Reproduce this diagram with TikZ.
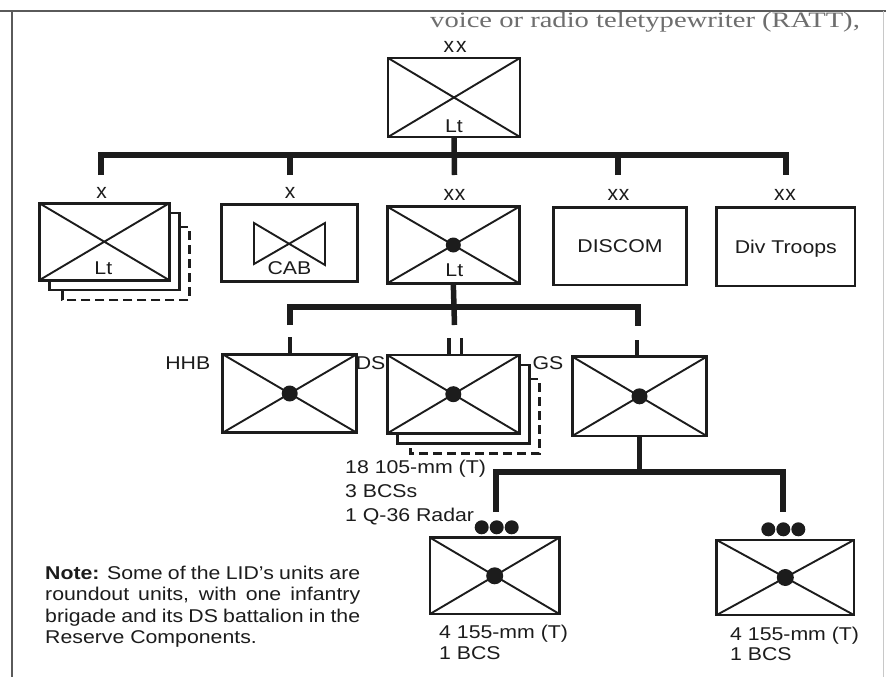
\documentclass[tikz,border=0pt]{standalone}
\usepackage{fontspec}
\setmainfont{Liberation Sans}[FakeStretch=1.15]
\newfontfamily\echelonfont{Liberation Sans}
\newfontfamily\runningserif{Liberation Serif}
\usetikzlibrary{positioning}
\definecolor{inkblack}{HTML}{1C1C1C}
\definecolor{framegray}{HTML}{5A5A5A}
\definecolor{ghostgray}{HTML}{6E6E6E}
\definecolor{edgegray}{HTML}{C8C8C8}
\newcommand\crossmark{%
  \draw[diag] (path picture bounding box.north west) -- (path picture bounding box.south east)
    (path picture bounding box.south west) -- (path picture bounding box.north east);}
\newcommand\unitstack[1]{%
  \draw[layer] ([yshift=-10pt]#1.north east) -- ++(10,0)
    |- ([xshift=10pt,yshift=-10pt]#1.south west) -- ++(0,-10);
  \draw[dashlayer] ([xshift=10pt,yshift=-24pt]#1.north east) -- ++(10,0)
    |- ([xshift=23pt,yshift=-20pt]#1.south west) -- ++(0,-10);}
\tikzset{
  font=\fontsize{18.5}{21.5}\selectfont,
  unit/.style={
    draw=inkblack,
    line width=2.6pt,
    fill=white,
    inner sep=0pt,
    outer sep=0pt,
    minimum width=132pt,
    minimum height=78pt
  },
  xunit/.style={unit, path picture={\crossmark}},
  hqunit/.style={unit, path picture={\crossmark
      \fill[inkblack] (path picture bounding box.center) circle (#1);}},
  hqunit/.default=8pt,
  diag/.style={draw=inkblack, line width=1.9pt},
  layer/.style={draw=inkblack, line width=2.4pt},
  dashlayer/.style={layer, dash pattern=on 9pt off 5pt},
  bus/.style={draw=inkblack, line width=5.5pt},
  stub/.style={draw=inkblack, line width=3.5pt},
  echelon/.style={font=\echelonfont\fontsize{21}{21}\selectfont, inner sep=0pt, anchor=base},
  inlbl/.style={inner sep=0pt, text depth=0pt},
  remark/.style={inner sep=0pt, align=left, anchor=north west}
}
\begin{document}
\begin{tikzpicture}[x=1pt, y=-1pt, text=inkblack]
  \useasboundingbox[fill=white] (0,0) rectangle (886,677);

  % page frame and running text
  \draw[framegray, line width=2pt] (0,11) -- (886,11);
  \draw[framegray, line width=1.6pt] (12,11) -- (12,677);
  \draw[edgegray, line width=1pt] (883,11) -- (883,677);
  \node[anchor=base west, inner sep=0pt, text=ghostgray,
        font=\runningserif\fontsize{22}{22}\selectfont] (runin) at (430,27.5)
    {\scalebox{1.3}[1]{voice or radio teletypewriter (RATT),}};

  % division
  \node[xunit, minimum height=79pt] (div) at (454,97.5) {};
  \node[inlbl, above=4.7pt of div.south] (divlt) {Lt};
  \node[echelon] (divech) at (455,52.7) {x\kern2pt x};

  % first level
  \node[xunit, minimum width=130pt, minimum height=77pt] (bde) at (104.3,241.7) {};
  \node[unit, minimum width=135.6pt, minimum height=77.4pt] (cab) at (289.5,243) {};
  \node[hqunit=7.5pt, minimum height=76.6pt] (arty) at (453.3,245) {};
  \node[unit, minimum width=133.4pt, minimum height=77.7pt] (discom) at (620,246.2) {DISCOM};
  \node[unit, minimum width=138.3pt, minimum height=78.7pt, text depth=0pt] (divtr)
    at (785.8,246.6) {Div Troops};
  \unitstack{bde}
  \draw[diag] ([shift={(-35.5,-20)}]cab.center) -- ([shift={(35.5,22)}]cab.center)
    -- ([shift={(35.5,-20)}]cab.center) -- ([shift={(-35.5,21)}]cab.center) -- cycle;
  \node[inlbl, above=6pt of bde.south, xshift=-1pt] (bdelt) {Lt};
  \node[inlbl, above=7pt of cab.south] (cablt) {CAB};
  \node[inlbl, above=6.3pt of arty.south, xshift=1pt] (artylt) {Lt};

  \node[echelon] (bdeech) at (101.7,198.3) {x};
  \node[echelon] (cabech) at (290,198.3) {x};
  \node[echelon] (artyech) at (454.5,200.7) {x\kern1pt x};
  \node[echelon] (discomech) at (618.5,200.7) {x\kern1pt x};
  \node[echelon] (divtrech) at (785,200.7) {x\kern1pt x};

  \coordinate (busw) at (101,155);
  \coordinate (buse) at (786,155);
  \foreach \name/\x in {bde/101, cab/290, arty/454.5, discom/618, divtr/786}
    \coordinate (tap\name) at (\x,175);
  \draw[bus] (tapbde) -- (busw) -- (buse) -- (tapdivtr);
  \draw[bus] (div.south) -- (taparty);
  \draw[bus] (tapcab) -- (tapcab |- busw);
  \draw[bus] (tapdiscom) -- (tapdiscom |- busw);

  % artillery battalions
  \node[hqunit, minimum width=134pt, minimum height=78.4pt] (hhb) at (289.7,393.5) {};
  \node[hqunit, minimum height=78.3pt] (ds) at (453.3,394.2) {};
  \node[hqunit, minimum width=134.4pt, minimum height=79.3pt] (gs) at (639.5,396.3) {};
  \unitstack{ds}
  \node[inlbl, anchor=base east] (hhblbl) at (210.5,369.3) {HHB};
  \node[inlbl, anchor=base east] (dslbl) at (385.5,369.3) {DS};
  \node[inlbl, anchor=base east] (gslbl) at (563.5,369.3) {GS};

  \coordinate (bus2w) at (290,307);
  \coordinate (bus2e) at (638,307);
  \coordinate (tap2hhb) at (290,325);
  \coordinate (tap2ds) at (454.5,325);
  \coordinate (tap2gs) at (638,326);
  \draw[bus] (tap2hhb) -- (bus2w) -- (bus2e) -- (tap2gs);
  \draw[bus] (arty.south) -- (tap2ds);
  \coordinate (stubhhb) at (290,337);
  \coordinate (stubdsl) at (449,338);
  \coordinate (stubdsr) at (461.7,338);
  \coordinate (stubgs) at (637,340);
  \draw[stub] (stubhhb) -- (stubhhb |- hhb.north);
  \draw[stub] (stubdsl) -- (stubdsl |- ds.north);
  \draw[stub] (stubdsr) -- (stubdsr |- ds.north);
  \draw[stub] (stubgs) -- (stubgs |- gs.north);

  \node[remark, font=\fontsize{18.5}{23.8}\selectfont] (dsguns) at (345,460)
    {18 105-mm (T)\\3 BCSs\\1 Q-36 Radar};

  % general support batteries
  \node[hqunit=8.5pt, minimum width=129.3pt, minimum height=76.3pt] (btrya) at (494.7,575.8) {};
  \node[hqunit=8.5pt, minimum width=137.3pt, minimum height=75pt] (btryb) at (785.3,577.5) {};
  \coordinate (bus3w) at (496,472);
  \coordinate (bus3e) at (783,472);
  \coordinate (tap3a) at (496,512);
  \coordinate (tap3b) at (783,512);
  \draw[bus] (gs.south) -- (gs.south |- bus3w);
  \draw[bus] (tap3a) -- (bus3w) -- (bus3e) -- (tap3b);
  \foreach \x in {481.7,496.7,511.7}
    \fill[inkblack] (\x,527.3) circle (7pt);
  \foreach \x in {768.3,783.3,798.3}
    \fill[inkblack] (\x,529.3) circle (7pt);
  \node[remark, font=\fontsize{18.5}{20.5}\selectfont] (btryaguns) at (439,625)
    {4 155-mm (T)\\1 BCS};
  \node[remark, font=\fontsize{18.5}{20.5}\selectfont] (btrybguns) at (730,626.5)
    {4 155-mm (T)\\1 BCS};

  \node[remark, text width=315pt, align=justify] (note) at (45,565.5)
    {\textbf{Note:} Some of the LID's units are\linebreak
     roundout units, with one infantry\linebreak
     brigade and its DS battalion in the\linebreak
     Reserve Components.};
\end{tikzpicture}
\end{document}
